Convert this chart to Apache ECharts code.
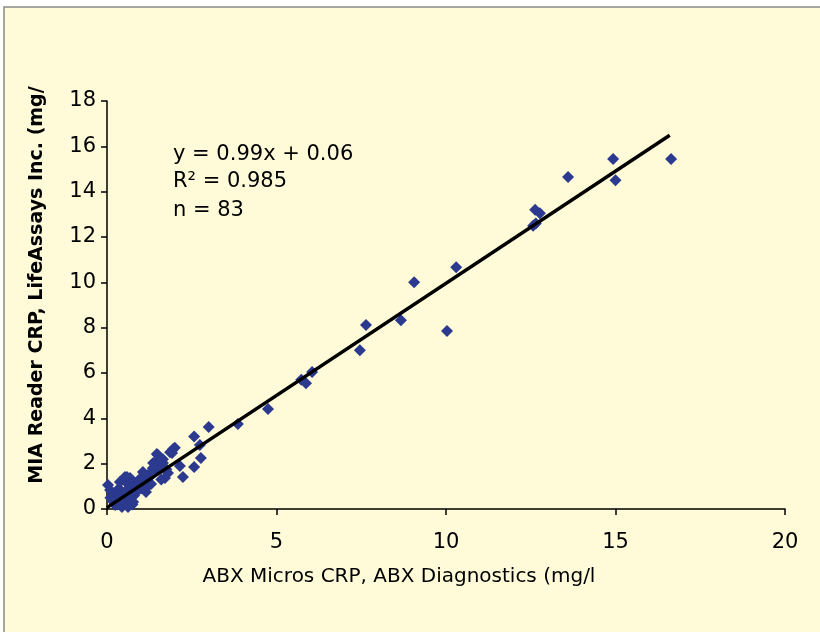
<!DOCTYPE html>
<html>
<head>
<meta charset="utf-8">
<script src="https://cdn.jsdelivr.net/npm/echarts@6/dist/echarts.min.js"></script>
<style>
html,body{margin:0;padding:0;background:#ffffff;}
#chart{width:820px;height:632px;}
</style>
</head>
<body>
<div id="chart"></div>
<script>
// Measured points: ABX Micros CRP (x) vs MIA Reader CRP (y), mg/l
const xValues = [
  16.64, 14.93, 15.0, 13.6, 12.63, 12.77, 12.57, 12.65, 10.3, 9.06,
  10.03, 8.67, 7.64, 7.46, 6.05, 5.87, 5.73, 4.75, 3.86, 3.0,
  2.57, 2.74, 2.77, 2.57, 2.24, 2.15, 1.95, 1.86, 1.47, 1.42,
  1.71, 1.06, 0.59, 0.03, 0.09, 0.18, 0.24, 0.44, 0.62, 0.53,
  0.68, 0.38, 0.77, 0.59, 0.97, 1.21, 1.18, 1.36, 1.5, 1.42,
  1.65, 1.92, 1.8, 0.77, 0.53, 0.32, 0.1, 0.2, 0.3, 0.35,
  0.45, 0.5, 0.55, 0.6, 0.65, 0.7, 0.75, 0.8, 0.85, 0.9,
  0.95, 1.0, 1.1, 1.15, 1.25, 1.3, 1.35, 1.55, 1.6, 1.65,
  1.75, 2.0, 0.83
];
const yValues = [
  15.44, 15.44, 14.5, 14.65, 13.2, 13.05, 12.5, 12.6, 10.67, 10.0,
  7.85, 8.33, 8.12, 7.0, 6.04, 5.55, 5.7, 4.41, 3.75, 3.62,
  3.2, 2.82, 2.25, 1.85, 1.41, 1.9, 2.65, 2.5, 2.43, 2.03,
  1.37, 1.63, 1.41, 1.06, 0.84, 0.53, 0.18, 0.09, 0.09, 1.41,
  1.37, 1.19, 1.06, 0.84, 1.28, 1.5, 0.97, 2.03, 2.38, 1.72,
  2.03, 2.47, 1.59, 0.31, 0.49, 0.71, 0.5, 0.3, 0.2, 0.9,
  0.6, 0.3, 1.2, 0.7, 0.45, 1.1, 0.2, 0.6, 1.0, 0.8,
  1.3, 0.9, 1.2, 0.75, 1.4, 1.1, 1.8, 1.9, 1.3, 2.2,
  1.75, 2.7, 0.84
];
// Regression line end points (y = 0.99x + 0.06)
const trendX = [0, 16.6];
const trendY = [0.06, 16.49];
const xTicks = [0, 5, 10, 15, 20];
const yTicks = [0, 2, 4, 6, 8, 10, 12, 14, 16, 18];
const statLines = ['y = 0.99x + 0.06', 'R\u00b2 = 0.985', 'n = 83'];
const xTitle = 'ABX Micros CRP, ABX Diagnostics (mg/l';
const yTitle = 'MIA Reader CRP, LifeAssays Inc. (mg/';

const chart = echarts.init(document.getElementById('chart'), null, {renderer: 'canvas'});
const font = '"DejaVu Sans", Verdana, sans-serif';
const option = {
  backgroundColor: '#ffffff',
  animation: false,
  graphic: [
    {type: 'rect', z: -10, shape: {x: 4, y: 7, width: 830, height: 640},
     style: {fill: '#fffbd9', stroke: '#8a8a8a', lineWidth: 1.5}},
    {type: 'text', left: 173, top: 144, style: {text: statLines[0], font: '21px ' + font, fill: '#000'}},
    {type: 'text', left: 173, top: 171, style: {text: statLines[1], font: '21px ' + font, fill: '#000'}},
    {type: 'text', left: 173, top: 200, style: {text: statLines[2], font: '21px ' + font, fill: '#000'}}
  ],
  grid: {left: 107, right: 35, top: 101, bottom: 123, containLabel: false},
  xAxis: {
    type: 'value', min: xTicks[0], max: xTicks[xTicks.length - 1], interval: 5,
    name: xTitle, nameLocation: 'middle', nameGap: 58,
    nameTextStyle: {fontFamily: font, fontSize: 20, color: '#000', padding: [0, 94, 0, 0]},
    axisLine: {show: true, lineStyle: {color: '#000', width: 1.5}},
    axisTick: {show: true, length: 6, lineStyle: {color: '#000', width: 1.5}},
    axisLabel: {fontFamily: font, fontSize: 21, color: '#000', margin: 23},
    splitLine: {show: false}
  },
  yAxis: {
    type: 'value', min: yTicks[0], max: yTicks[yTicks.length - 1], interval: 2,
    name: yTitle, nameLocation: 'middle', nameGap: 60, nameRotate: 90,
    nameTextStyle: {fontFamily: font, fontSize: 19, fontWeight: 'bold', color: '#000', padding: [0, 0, 0, 40]},
    axisLine: {show: true, lineStyle: {color: '#000', width: 1.5}},
    axisTick: {show: true, length: 6, lineStyle: {color: '#000', width: 1.5}},
    axisLabel: {fontFamily: font, fontSize: 21, color: '#000', margin: 11},
    splitLine: {show: false}
  },
  series: [
    {
      type: 'scatter',
      symbol: 'diamond',
      symbolSize: 12,
      itemStyle: {color: '#2b3a8f', opacity: 1},
      data: xValues.map((x, i) => [x, yValues[i]]),
      z: 2
    },
    {
      type: 'line',
      data: trendX.map((x, i) => [x, trendY[i]]),
      symbol: 'none',
      lineStyle: {color: '#000', width: 3.5},
      z: 3
    }
  ]
};
chart.setOption(option);
</script>
</body>
</html>
